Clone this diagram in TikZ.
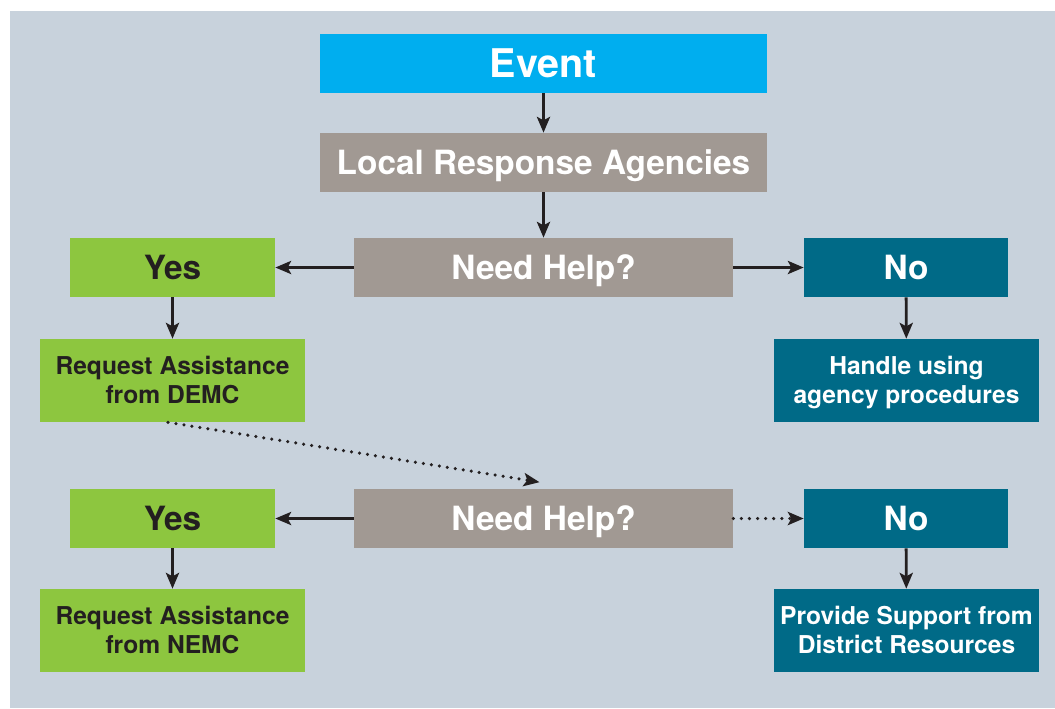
\documentclass[tikz,border=0pt]{standalone}
\usepackage{fontspec}
\setmainfont{TeX Gyre Heros}
\usetikzlibrary{positioning}
\usetikzlibrary{arrows.meta}

\definecolor{bgblue}{HTML}{C8D2DC}
\definecolor{eventcyan}{HTML}{00AEEF}
\definecolor{boxgray}{HTML}{A19993}
\definecolor{yesgreen}{HTML}{8DC63F}
\definecolor{noteal}{HTML}{006A87}
\definecolor{arrowblack}{HTML}{231F20}

\begin{document}
\begin{tikzpicture}[
x=0.02cm, y=-0.02cm,
bignode/.style={rectangle, inner sep=0pt, text=white, font=\bfseries\fontsize{19}{22}\selectfont, text height=13.7pt, text depth=0pt, minimum height=1.18cm},
eventnode/.style={bignode, fill=eventcyan, minimum width=8.94cm, font=\bfseries\fontsize{22.5}{26}\selectfont, text height=16.2pt},
agencynode/.style={bignode, fill=boxgray, minimum width=8.94cm},
helpnode/.style={bignode, fill=boxgray, minimum width=7.58cm},
yesnode/.style={bignode, fill=yesgreen, text=arrowblack, minimum width=4.1cm},
nonode/.style={bignode, fill=noteal, minimum width=4.08cm},
smallnode/.style={rectangle, inner sep=0pt, align=center, font=\bfseries\fontsize{14}{16.5}\selectfont, text height=26.6pt, text depth=0pt, minimum width=5.3cm, minimum height=1.66cm},
greenbox/.style={smallnode, fill=yesgreen, text=arrowblack},
tealbox/.style={smallnode, fill=noteal, text=white},
arrow/.style={-{Stealth[length=9pt, width=7.5pt, inset=2pt]}, line width=1.6pt, draw=arrowblack},
dotarrow/.style={arrow, line width=2pt, line cap=round, dash pattern=on 0pt off 4.6pt},
]

% Page size and the grey-blue panel
\useasboundingbox (0,0) rectangle (1055,708);
\fill[bgblue] (10,11) rectangle (1055,708);

% Top of the chart
\node[eventnode]  (event)  at (543.5,63.5)  {Event};
\node[agencynode] (local)  at (543.5,162.5) {Local Response Agencies};

% First decision
\node[helpnode]   (helpone) at (543.5,267.5) {Need Help?};
\node[yesnode]    (yesone)  at (172.5,267.5) {Yes};
\node[nonode]     (noone)   at (906,267.5)   {No};
\node[greenbox]   (demc)    at (172.5,380.5) {Request Assistance\\from DEMC};
\node[tealbox]    (handle)  at (906.5,380.5) {Handle using\\agency procedures};

% Second decision
\node[helpnode]   (helptwo) at (543.5,518.5) {Need Help?};
\node[yesnode]    (yestwo)  at (172.5,518.5) {Yes};
\node[nonode]     (notwo)   at (906,518.5)   {No};
\node[greenbox]   (nemc)    at (172.5,630.5) {Request Assistance\\from NEMC};
\node[tealbox]    (district) at (906.5,630.5) {Provide Support from\\District Resources};

\draw[arrow] (event) -- (local);
\draw[arrow] (local) -- (helpone);
\draw[arrow] (helpone) -- (yesone);
\draw[arrow] (helpone) -- (noone);
\draw[arrow] (yesone) -- (demc);
\draw[arrow] (noone) -- (handle);
\draw[dotarrow] ([xshift=-0.09cm]demc.south) -- ([xshift=-0.08cm, yshift=0.13cm]helptwo.north);
\draw[arrow] (helptwo) -- (yestwo);
\draw[dotarrow] (helptwo) -- (notwo);
\draw[arrow] (yestwo) -- (nemc);
\draw[arrow] (notwo) -- (district);
\end{tikzpicture}
\end{document}
